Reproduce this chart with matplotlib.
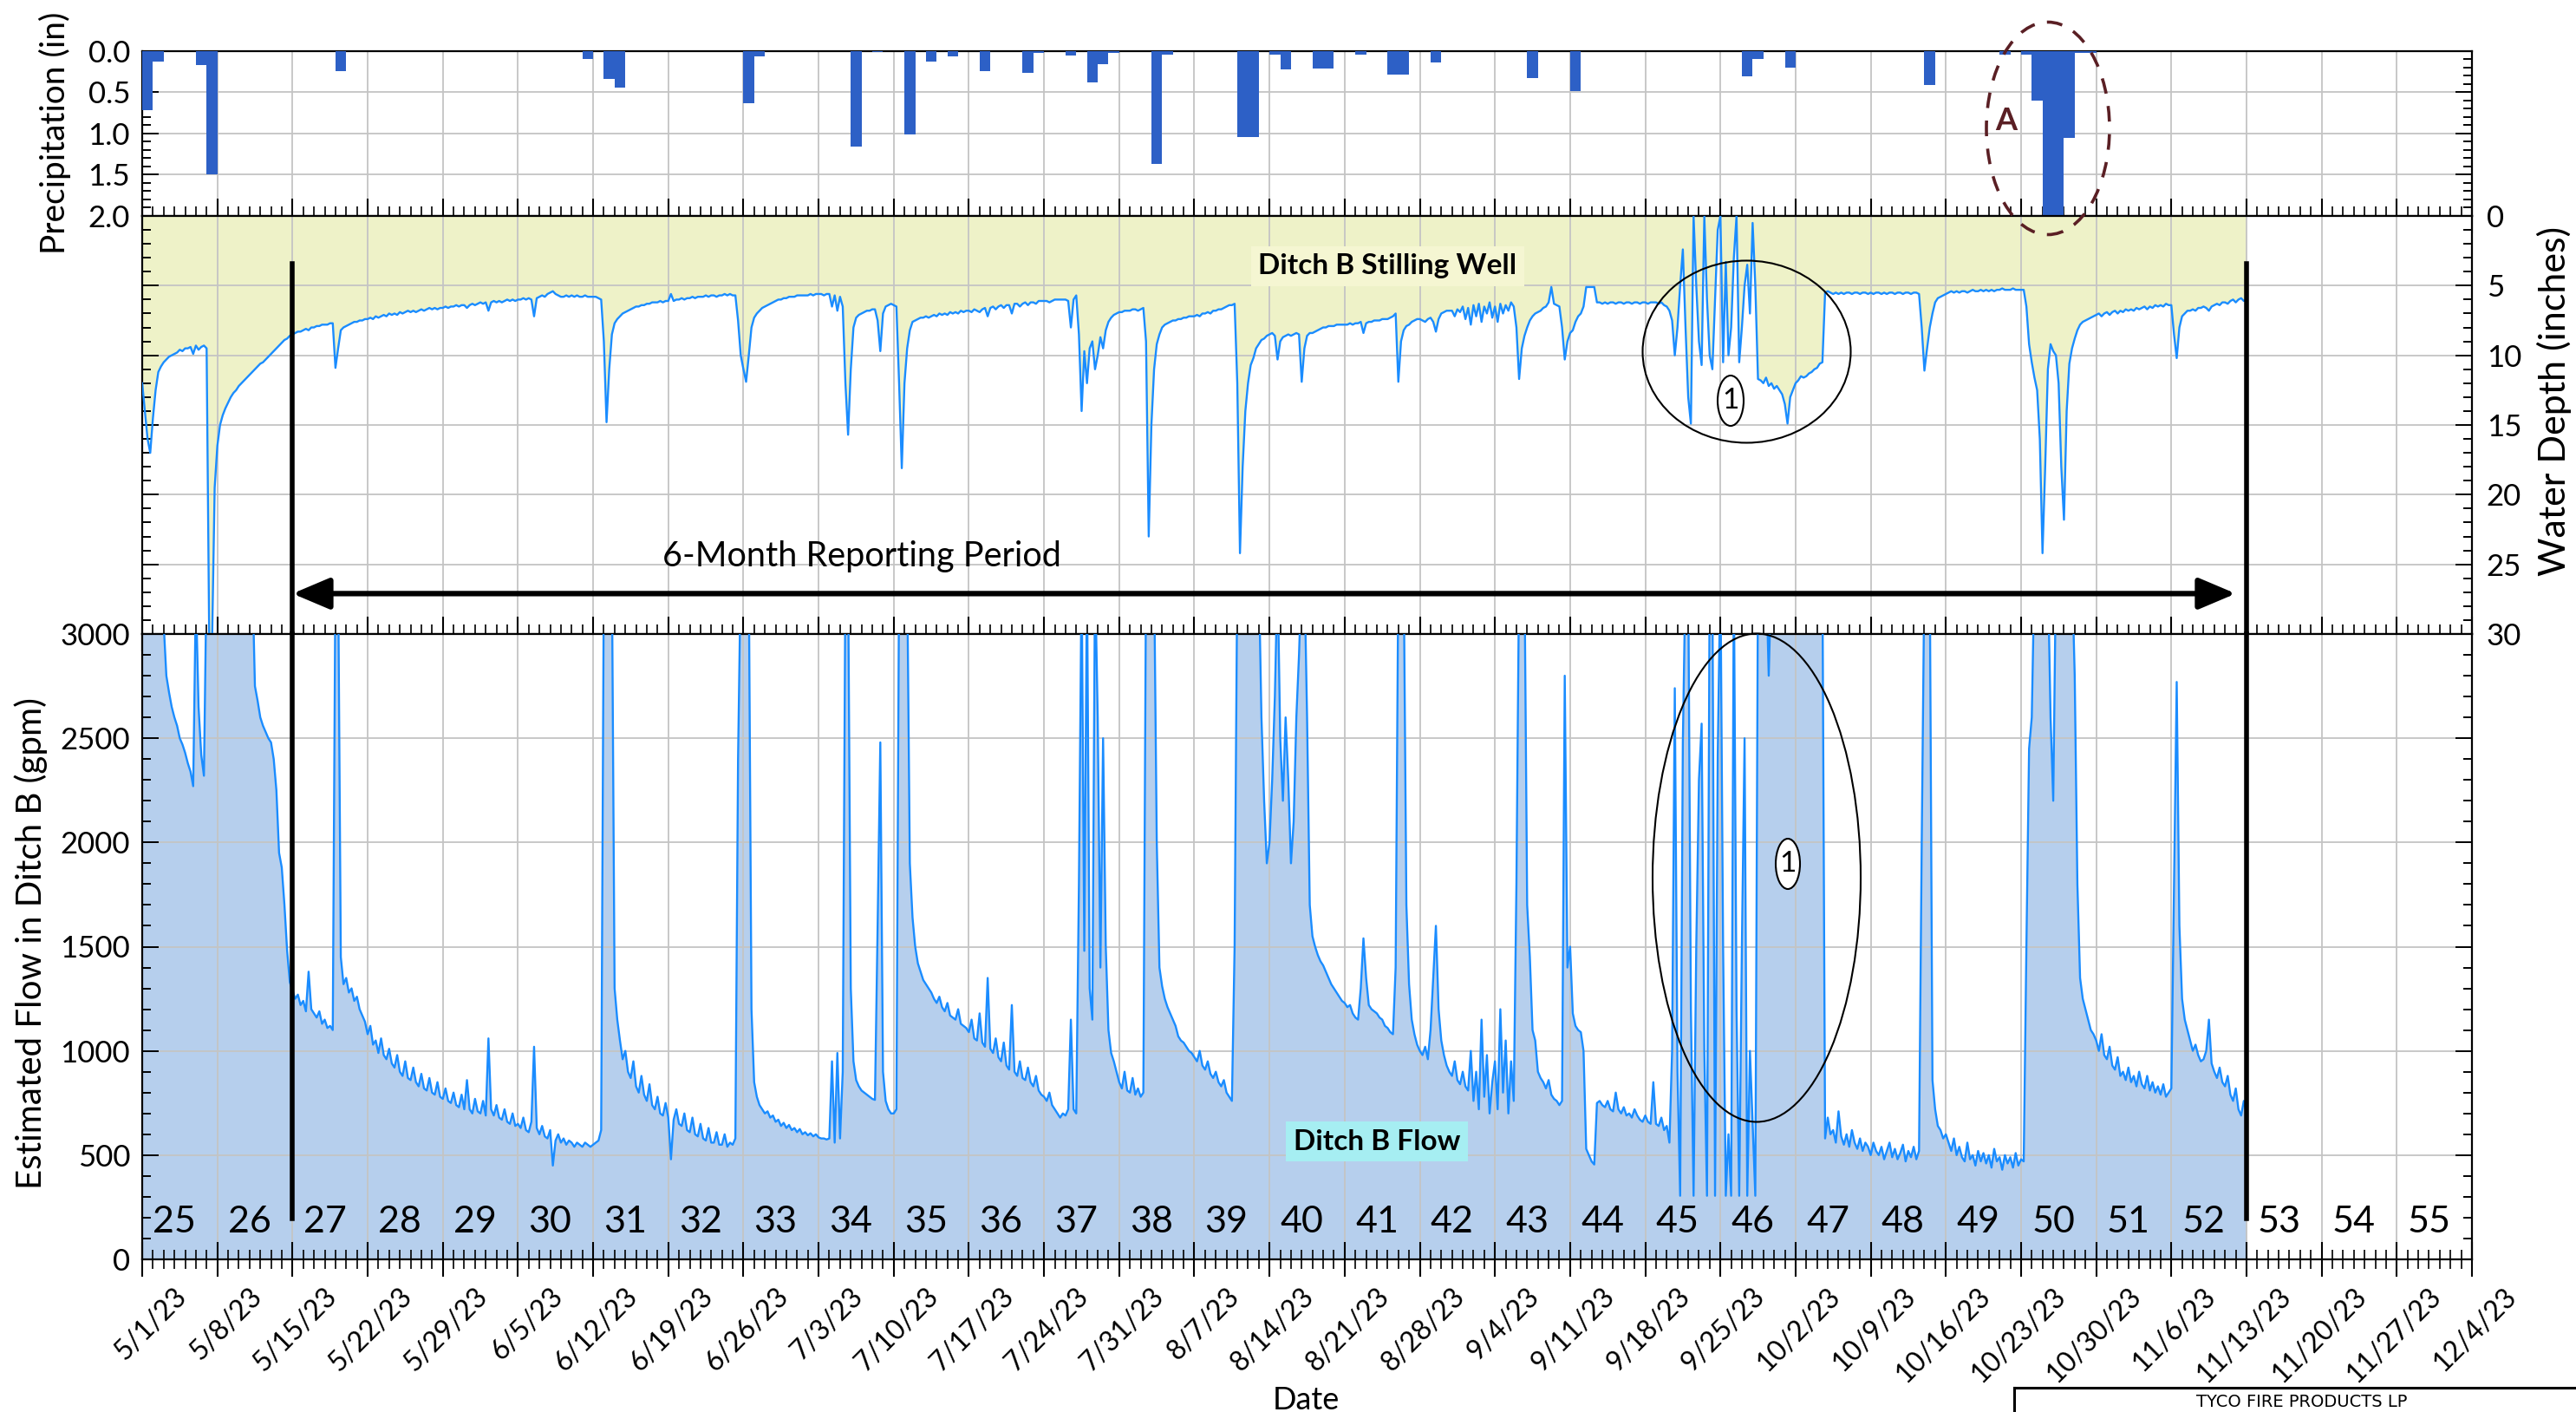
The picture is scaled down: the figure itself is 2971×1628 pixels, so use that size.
import numpy as np
import pandas as pd
import matplotlib
matplotlib.use('Agg')
import matplotlib.pyplot as plt
import matplotlib.dates as mdates
import matplotlib.transforms as mtransforms
from matplotlib.patches import Ellipse
from matplotlib.lines import Line2D
from matplotlib.ticker import MultipleLocator

plt.rcParams['font.family'] = ['Lato', 'DejaVu Sans']

START = np.datetime64('2023-05-01T00:00')
END_DAYS = 217          # axis runs 5/1/23 .. 12/4/23
SAMPLE_HOURS = 6        # logger series below are 6-hourly from 5/1/23 00:00

# daily precipitation (day offset from 5/1/23, inches)
precip_day = [0, 1, 5, 6, 18, 41, 43, 44, 56, 57, 66, 68, 71, 73, 75, 78, 82, 83, 86,
              88, 89, 90, 94, 95, 102, 103, 105, 106, 109, 110, 113, 116, 117, 120,
              129, 133, 149, 150, 153, 166, 173, 175, 176, 177, 178, 179, 180, 181]
precip_in = [0.72, 0.13, 0.17, 1.50, 0.25, 0.10, 0.34, 0.45, 0.64, 0.07, 1.16, 0.02,
             1.01, 0.13, 0.07, 0.25, 0.27, 0.03, 0.06, 0.38, 0.16, 0.03, 1.37, 0.05,
             1.04, 1.04, 0.05, 0.23, 0.21, 0.21, 0.05, 0.29, 0.29, 0.14, 0.33, 0.49,
             0.31, 0.10, 0.20, 0.41, 0.05, 0.05, 0.60, 2.00, 2.00, 1.05, 0.03, 0.03]

# estimated flow in Ditch B (gpm), two rows per week (weeks 25..52)
flow_gpm = [
    3300, 3300, 3300, 3300, 3300, 3300, 3300, 3300, 3050, 2800, 2720, 2650, 2600, 2560,
    2500, 2470, 2430, 2380, 2340, 2270, 3200, 2650, 2420, 2320, 3300, 3300, 3300, 3300,
    3300, 3300, 3300, 3300, 3300, 3300, 3300, 3300, 3300, 3300, 3300, 3300, 3300, 3300,
    2750, 2680, 2600, 2560, 2530, 2500, 2480, 2400, 2250, 1950, 1880, 1700, 1480, 1330,
    1290, 1250, 1270, 1220, 1240, 1190, 1380, 1200, 1180, 1160, 1190, 1130, 1150, 1110,
    1120, 1100, 3300, 3300, 1450, 1320, 1350, 1280, 1300, 1240, 1260, 1200, 1170, 1140,
    1080, 1120, 1030, 1050, 990, 1060, 980, 960, 1010, 940, 920, 980, 900, 880,
    950, 870, 860, 920, 850, 830, 890, 820, 810, 870, 800, 790, 850, 780,
    770, 820, 760, 750, 800, 740, 730, 790, 720, 860, 720, 700, 770, 710,
    700, 760, 690, 1060, 720, 690, 740, 680, 670, 720, 660, 650, 700, 640,
    650, 630, 680, 620, 610, 660, 1020, 630, 600, 640, 590, 580, 620, 450,
    570, 600, 560, 580, 550, 570, 560, 540, 560, 550, 540, 560, 550, 540,
    550, 560, 570, 620, 3300, 3300, 3300, 3300, 1300, 1150, 1050, 960, 1000, 900,
    870, 950, 830, 800, 880, 790, 760, 840, 740, 720, 780, 700, 690, 750,
    680, 480, 670, 720, 650, 640, 700, 620, 610, 680, 600, 590, 650, 580,
    570, 630, 560, 560, 610, 550, 550, 600, 540, 560, 550, 580, 2400, 3300,
    3300, 3300, 3300, 1200, 850, 780, 740, 720, 700, 710, 680, 690, 660, 670,
    640, 655, 630, 645, 620, 630, 610, 625, 600, 610, 595, 605, 590, 600,
    585, 580, 580, 575, 580, 950, 560, 990, 580, 900, 3300, 3300, 1300, 950,
    860, 830, 810, 800, 790, 780, 770, 765, 1600, 2480, 900, 760, 720, 700,
    700, 720, 3300, 3300, 3300, 3300, 1900, 1640, 1500, 1420, 1380, 1340, 1320, 1300,
    1280, 1250, 1230, 1260, 1210, 1190, 1230, 1170, 1160, 1150, 1200, 1130, 1120, 1110,
    1090, 1150, 1060, 1050, 1180, 1040, 1020, 1350, 1010, 990, 1060, 970, 950, 1040,
    930, 910, 1220, 900, 880, 950, 870, 860, 920, 850, 830, 880, 810, 790,
    780, 760, 800, 740, 720, 700, 680, 700, 690, 720, 1150, 720, 700, 1800,
    3300, 1480, 3300, 1300, 1150, 3300, 2600, 1400, 2500, 1500, 1100, 990, 950, 900,
    850, 820, 900, 810, 800, 870, 790, 820, 780, 800, 3300, 3300, 3300, 3300,
    2000, 1400, 1310, 1250, 1210, 1180, 1150, 1120, 1070, 1050, 1040, 1020, 1000, 990,
    970, 950, 1000, 930, 910, 950, 890, 870, 900, 850, 830, 860, 800, 780,
    760, 1500, 3300, 3300, 3300, 3300, 3300, 3300, 3300, 3300, 3300, 2600, 2200, 1900,
    2000, 2300, 2700, 3300, 2500, 2200, 2600, 2300, 1900, 2100, 2600, 2900, 3300, 3300,
    2600, 1700, 1550, 1500, 1460, 1430, 1410, 1380, 1350, 1320, 1300, 1280, 1260, 1240,
    1230, 1210, 1220, 1180, 1160, 1150, 1300, 1540, 1350, 1220, 1200, 1190, 1180, 1160,
    1150, 1120, 1110, 1090, 1080, 1400, 3300, 3300, 3300, 1700, 1320, 1150, 1080, 1030,
    1000, 980, 1020, 960, 1100, 1350, 1600, 1200, 1050, 980, 930, 900, 880, 950,
    860, 840, 900, 830, 810, 1000, 760, 900, 720, 1150, 780, 980, 700, 850,
    950, 720, 1200, 800, 1050, 700, 950, 760, 1800, 3300, 3300, 3300, 1700, 1450,
    1100, 1050, 900, 870, 850, 820, 860, 790, 770, 760, 740, 760, 2800, 1400,
    1500, 1180, 1120, 1100, 1090, 1000, 530, 500, 470, 455, 750, 760, 740, 730,
    760, 720, 710, 800, 720, 700, 730, 690, 700, 680, 720, 690, 670, 660,
    690, 660, 650, 850, 650, 640, 680, 620, 640, 560, 1000, 2740, 900, 305,
    2480, 3300, 3300, 1200, 305, 1500, 2300, 2570, 1000, 305, 3300, 3300, 305, 2420,
    3300, 1500, 305, 600, 305, 3300, 1200, 305, 1500, 2500, 305, 1000, 650, 305,
    3300, 3300, 3300, 3300, 2800, 3300, 3300, 3300, 3300, 3300, 3300, 3300, 3300, 3300,
    3300, 3300, 3300, 3300, 3300, 3300, 3300, 3300, 3300, 3300, 3300, 580, 680, 600,
    620, 560, 710, 590, 550, 600, 540, 620, 560, 530, 580, 520, 560, 540,
    500, 560, 520, 500, 540, 480, 520, 560, 490, 530, 480, 510, 550, 470,
    520, 490, 540, 480, 520, 2000, 3300, 3300, 3300, 860, 720, 640, 620, 580,
    600, 560, 520, 580, 500, 540, 490, 470, 560, 480, 500, 450, 520, 470,
    510, 460, 500, 440, 530, 470, 490, 430, 500, 460, 490, 440, 510, 450,
    480, 470, 1500, 2450, 2600, 3300, 3300, 3300, 3300, 3300, 3300, 2600, 2200, 3300,
    3300, 3300, 3300, 3300, 3300, 3300, 2800, 1800, 1350, 1250, 1200, 1150, 1100, 1080,
    1050, 1000, 1080, 980, 960, 1020, 930, 910, 970, 880, 900, 860, 920, 850,
    880, 830, 900, 840, 820, 880, 810, 850, 800, 830, 790, 840, 780, 800,
    820, 1800, 2770, 1600, 1250, 1150, 1100, 1050, 1000, 1030, 980, 950, 960, 1000,
    1150, 940, 900, 870, 920, 850, 830, 880, 790, 760, 820, 720, 690, 760,
    700,
]

# water depth at the Ditch B stilling well (inches), same 6-hourly samples
depth_in = [
    12.0, 14.0, 16.0, 17.0, 14.5, 12.5, 11.2, 10.8, 10.5, 10.3, 10.1, 10.0, 9.9, 9.8,
    9.6, 9.7, 9.5, 9.5, 9.4, 9.9, 9.3, 9.6, 9.4, 9.3, 9.5, 31.0, 31.0, 19.5,
    16.5, 15.0, 14.3, 13.8, 13.4, 13.0, 12.7, 12.5, 12.2, 12.0, 11.8, 11.6, 11.4, 11.2,
    11.0, 10.8, 10.6, 10.5, 10.3, 10.1, 9.9, 9.7, 9.5, 9.3, 9.1, 8.9, 8.8, 8.6,
    8.5, 8.4, 8.3, 8.3, 8.2, 8.1, 8.2, 8.0, 8.0, 7.9, 7.9, 7.8, 7.8, 7.8,
    7.7, 7.7, 10.9, 9.5, 8.2, 8.0, 7.9, 7.8, 7.7, 7.6, 7.6, 7.5, 7.5, 7.4,
    7.4, 7.3, 7.4, 7.2, 7.3, 7.2, 7.1, 7.2, 7.0, 7.1, 7.0, 7.1, 6.9, 7.0,
    6.9, 6.8, 6.9, 6.8, 6.9, 6.8, 6.7, 6.8, 6.7, 6.6, 6.7, 6.6, 6.7, 6.6,
    6.6, 6.5, 6.6, 6.5, 6.5, 6.4, 6.5, 6.4, 6.4, 6.6, 6.4, 6.3, 6.4, 6.3,
    6.2, 6.3, 6.2, 6.8, 6.2, 6.1, 6.2, 6.1, 6.2, 6.1, 6.0, 6.1, 6.0, 6.1,
    6.0, 6.0, 5.9, 6.0, 5.9, 6.0, 7.2, 5.9, 5.8, 5.7, 5.8, 5.6, 5.5, 5.4,
    5.6, 5.7, 5.8, 5.8, 5.7, 5.8, 5.7, 5.8, 5.7, 5.8, 5.8, 5.7, 5.8, 5.8,
    5.8, 5.8, 5.9, 6.0, 9.0, 14.8, 11.0, 8.5, 7.7, 7.4, 7.2, 7.0, 6.9, 6.8,
    6.7, 6.6, 6.5, 6.5, 6.4, 6.4, 6.3, 6.3, 6.2, 6.2, 6.2, 6.1, 6.2, 6.1,
    6.1, 5.6, 6.1, 6.0, 6.0, 5.9, 6.0, 5.9, 5.9, 5.8, 5.9, 5.8, 5.8, 5.8,
    5.7, 5.8, 5.7, 5.7, 5.8, 5.7, 5.7, 5.6, 5.7, 5.6, 5.7, 5.7, 7.5, 10.0,
    11.0, 11.9, 10.0, 8.0, 7.3, 7.0, 6.8, 6.6, 6.5, 6.4, 6.3, 6.2, 6.1, 6.0,
    6.0, 5.9, 5.9, 5.8, 5.8, 5.8, 5.7, 5.7, 5.7, 5.7, 5.7, 5.6, 5.7, 5.6,
    5.6, 5.6, 5.7, 5.6, 5.6, 6.5, 5.7, 6.8, 5.8, 6.5, 12.0, 15.7, 11.0, 8.0,
    7.3, 7.1, 7.0, 6.9, 6.8, 6.8, 6.7, 6.7, 7.5, 9.7, 7.0, 6.5, 6.4, 6.3,
    6.4, 6.5, 12.0, 18.1, 12.0, 9.5, 8.2, 7.6, 7.5, 7.4, 7.3, 7.3, 7.2, 7.3,
    7.2, 7.1, 7.2, 7.0, 7.1, 7.0, 7.1, 6.9, 7.0, 6.9, 7.0, 6.8, 6.9, 6.8,
    6.8, 6.9, 6.7, 6.8, 6.9, 6.7, 6.6, 7.2, 6.6, 6.5, 6.7, 6.5, 6.4, 6.6,
    6.4, 6.4, 7.0, 6.3, 6.3, 6.5, 6.3, 6.2, 6.4, 6.2, 6.2, 6.3, 6.1, 6.1,
    6.1, 6.1, 6.2, 6.1, 6.0, 6.0, 6.0, 6.0, 6.0, 6.1, 8.0, 6.0, 5.7, 8.5,
    14.0, 9.7, 12.0, 9.5, 9.0, 11.0, 10.0, 8.7, 9.5, 8.2, 7.6, 7.3, 7.1, 7.0,
    6.9, 6.9, 6.8, 6.8, 6.8, 6.7, 6.7, 6.8, 6.7, 6.6, 9.0, 23.0, 15.0, 11.0,
    9.2, 8.5, 8.0, 7.8, 7.7, 7.6, 7.5, 7.5, 7.4, 7.4, 7.3, 7.3, 7.2, 7.2,
    7.2, 7.1, 7.2, 7.0, 7.0, 6.9, 7.0, 6.8, 6.8, 6.7, 6.7, 6.6, 6.5, 6.4,
    6.4, 6.3, 12.0, 24.2, 18.0, 14.0, 12.0, 10.7, 10.2, 9.5, 9.2, 8.9, 8.8, 8.6,
    8.5, 8.4, 8.6, 10.3, 9.0, 8.7, 8.6, 8.5, 8.6, 8.5, 8.4, 8.5, 11.9, 9.5,
    8.6, 8.4, 8.4, 8.3, 8.2, 8.1, 8.0, 8.0, 7.9, 7.9, 7.9, 7.8, 7.8, 7.8,
    7.8, 7.8, 7.7, 7.8, 7.7, 7.7, 7.6, 8.4, 7.7, 7.6, 7.6, 7.5, 7.5, 7.5,
    7.4, 7.4, 7.4, 7.3, 7.2, 7.0, 11.9, 9.0, 8.2, 7.9, 7.8, 7.6, 7.5, 7.4,
    7.4, 7.5, 7.6, 7.4, 7.3, 7.6, 8.3, 7.4, 7.0, 6.9, 6.8, 6.8, 6.8, 7.2,
    6.7, 6.9, 6.5, 7.4, 6.6, 7.8, 6.4, 7.2, 6.3, 7.6, 6.5, 7.0, 6.2, 7.3,
    6.5, 7.6, 6.3, 7.0, 6.4, 6.8, 6.2, 6.5, 8.0, 11.7, 9.5, 8.6, 8.0, 7.5,
    7.2, 7.0, 6.9, 6.8, 6.6, 6.5, 6.2, 5.1, 6.3, 6.4, 6.5, 8.0, 10.3, 9.0,
    8.4, 8.2, 7.6, 7.2, 7.0, 6.5, 5.1, 5.1, 5.1, 5.1, 6.2, 6.2, 6.3, 6.2,
    6.3, 6.2, 6.2, 6.3, 6.2, 6.2, 6.3, 6.2, 6.2, 6.3, 6.2, 6.2, 6.3, 6.2,
    6.2, 6.3, 6.2, 6.2, 6.2, 6.3, 6.2, 6.4, 6.5, 6.8, 7.5, 10.0, 8.0, 5.0,
    2.4, 8.0, 13.0, 14.9, 0.0, 5.0, 9.0, 10.7, 0.0, 6.0, 10.0, 11.0, 6.0, 1.0,
    0.0, 10.5, 3.3, 10.0, 8.0, 3.0, 0.0, 10.5, 8.0, 5.0, 3.5, 7.0, 0.5, 5.0,
    11.7, 11.8, 12.0, 11.6, 12.2, 12.0, 12.4, 12.2, 12.5, 12.8, 13.5, 14.9, 13.0, 12.5,
    12.0, 11.8, 11.5, 11.6, 11.5, 11.3, 11.2, 11.0, 10.9, 10.6, 10.5, 5.5, 5.4, 5.5,
    5.6, 5.5, 5.6, 5.5, 5.6, 5.5, 5.5, 5.6, 5.5, 5.5, 5.6, 5.5, 5.5, 5.6,
    5.5, 5.6, 5.5, 5.5, 5.6, 5.5, 5.6, 5.5, 5.5, 5.6, 5.5, 5.5, 5.6, 5.5,
    5.5, 5.6, 5.5, 5.5, 5.6, 8.0, 11.1, 9.5, 8.0, 7.0, 6.2, 5.9, 5.8, 5.7,
    5.6, 5.5, 5.4, 5.5, 5.4, 5.5, 5.4, 5.4, 5.5, 5.4, 5.3, 5.4, 5.4, 5.3,
    5.4, 5.3, 5.4, 5.3, 5.4, 5.3, 5.3, 5.2, 5.3, 5.3, 5.3, 5.2, 5.3, 5.3,
    5.3, 5.3, 6.5, 9.2, 10.5, 11.6, 12.5, 16.0, 24.2, 18.0, 11.0, 9.2, 9.7, 10.0,
    12.0, 18.0, 21.8, 14.0, 10.6, 9.5, 8.8, 8.2, 7.8, 7.6, 7.5, 7.4, 7.3, 7.2,
    7.1, 7.0, 7.2, 7.0, 6.9, 7.1, 6.9, 6.8, 7.0, 6.8, 6.9, 6.7, 6.8, 6.7,
    6.8, 6.6, 6.7, 6.6, 6.5, 6.7, 6.5, 6.6, 6.4, 6.5, 6.4, 6.5, 6.3, 6.4,
    6.4, 8.5, 10.2, 8.0, 7.2, 7.0, 6.8, 6.8, 6.7, 6.8, 6.6, 6.6, 6.5, 6.6,
    6.8, 6.5, 6.4, 6.3, 6.4, 6.2, 6.2, 6.3, 6.1, 6.0, 6.2, 6.0, 5.9, 6.1,
    6.0,
]

week_numbers = list(range(25, 56))

# ---------------------------------------------------------------
W, H = 2971, 1628
fig = plt.figure(figsize=(W / 100, H / 100), dpi=100)
L, R = 164 / W, 2851 / W


def axes_between(top_px, bot_px):
    return fig.add_axes([L, 1 - bot_px / H, R - L, (bot_px - top_px) / H])


ax_p = axes_between(58.5, 249)
ax_d = axes_between(249, 731)
ax_f = axes_between(731, 1452)

LINE = '#1a8cff'
FLOW_FILL = '#b6cfed'
DEPTH_FILL = '#eef2c8'
BAR = '#2d60c6'
GRID = '#c4c4c4'

day = np.timedelta64(1, 'D')
t_flow = START + np.arange(len(flow_gpm)) * np.timedelta64(SAMPLE_HOURS, 'h')
t_depth = START + np.arange(len(depth_in)) * np.timedelta64(SAMPLE_HOURS, 'h')
t_rain = START + np.array(precip_day) * day

ax_p.bar(t_rain, precip_in, width=1.0, align='edge', color=BAR, zorder=3)
ax_d.fill_between(t_depth, 0, depth_in, color=DEPTH_FILL, lw=0, zorder=1)
ax_d.plot(t_depth, depth_in, color=LINE, lw=1.7, zorder=3)
ax_f.fill_between(t_flow, 0, flow_gpm, color=FLOW_FILL, lw=0, zorder=1)
ax_f.plot(t_flow, flow_gpm, color=LINE, lw=1.7, zorder=3)

ax_p.set_ylim(2.0, 0.0)
ax_d.set_ylim(30, 0)
ax_f.set_ylim(0, 3000)

weeks = START + np.arange(0, END_DAYS + 1, 7) * day
for ax in (ax_p, ax_d, ax_f):
    ax.set_xlim(START, START + END_DAYS * day)
    ax.set_xticks(weeks)
    ax.xaxis.set_minor_locator(mdates.DayLocator())
    ax.set_axisbelow('line')
    ax.grid(True, which='major', color=GRID, lw=1.3)
    for s in ax.spines.values():
        s.set_linewidth(1.6)
    ax.tick_params(axis='x', which='major', direction='inout', length=29, width=1.5,
                   top=False, bottom=True, labelbottom=False)
    ax.tick_params(axis='x', which='minor', direction='inout', length=16, width=1.2,
                   top=False, bottom=True)
    ax.tick_params(axis='y', which='both', direction='in', left=True, right=True,
                   labelsize=25, width=1.4)
    ax.tick_params(axis='y', which='major', length=14)
    ax.tick_params(axis='y', which='minor', length=7)

ax_p.yaxis.set_major_locator(MultipleLocator(0.5))
ax_p.yaxis.set_minor_locator(MultipleLocator(0.1))
ax_p.set_yticks([0.0, 0.5, 1.0, 1.5, 2.0])
ax_p.set_yticklabels(['0.0', '0.5', '1.0', '1.5', '2.0'])
ax_p.tick_params(axis='y', pad=10)

ax_d.yaxis.set_major_locator(MultipleLocator(5))
ax_d.yaxis.set_minor_locator(MultipleLocator(1))
ax_d.tick_params(axis='y', labelleft=False, labelright=True, pad=12)

ax_f.yaxis.set_major_locator(MultipleLocator(500))
ax_f.yaxis.set_minor_locator(MultipleLocator(100))
ax_f.tick_params(axis='y', pad=10)

# rotated date labels, hung from each weekly tick
shift = mtransforms.ScaledTranslation(26 / 72, -20 / 72, fig.dpi_scale_trans)
date_tf = ax_f.get_xaxis_transform() + shift
for d in pd.to_datetime(weeks):
    ax_f.text(np.datetime64(d), 0, f'{d.month}/{d.day}/23', transform=date_tf,
              rotation=45, ha='right', va='top', rotation_mode='anchor',
              fontsize=23, clip_on=False)

# week numbers along the bottom of the flow panel
for k, wk in enumerate(week_numbers):
    ax_f.text(START + (7 * k + 3.5) * day, 180, str(wk), ha='center', va='center',
              fontsize=31, zorder=5)

# reporting period markers
d0 = START + 14 * day
d1 = START + 196 * day
for d in (d0, d1):
    ax_d.plot([d, d], [3.4, 30], color='black', lw=4, clip_on=False, zorder=6)
    ax_f.plot([d, d], [3000, 195], color='black', lw=4, clip_on=False, zorder=6)
ax_d.annotate('', xy=(START + 195.6 * day, 27.1), xytext=(START + 14.45 * day, 27.1),
              arrowprops=dict(arrowstyle='<|-|>,head_length=1.3,head_width=0.55',
                              mutation_scale=20, lw=4.5, color='black',
                              shrinkA=0, shrinkB=0), zorder=6)
ax_d.text(START + 67 * day, 24.4, '6-Month Reporting Period', ha='center', va='center',
          fontsize=28.5, zorder=6)

ax_d.text(START + 116.5 * day, 3.6, 'Ditch B Stilling Well', ha='center', va='center',
          fontsize=24, fontweight='bold', zorder=6,
          bbox=dict(boxstyle='square,pad=0.25', fc='#f5f6d2', ec='none'))
ax_f.text(START + 115 * day, 565, 'Ditch B Flow', ha='center', va='center',
          fontsize=24, fontweight='bold', zorder=6,
          bbox=dict(boxstyle='square,pad=0.25', fc='#a6eef2', ec='none'))


def fig_ellipse(cx, cy, w, h, **kw):
    e = Ellipse((cx / W, 1 - cy / H), w / W, h / H, transform=fig.transFigure, **kw)
    fig.add_artist(e)


fig_ellipse(2362, 148, 142, 245, fill=False, ec='#5a1f24', lw=2.6, ls=(0, (5, 4)))
fig.text(2314 / W, 1 - 140 / H, 'A', ha='center', va='center', fontsize=26,
         fontweight='bold', color='#5a1f24')

fig_ellipse(2014.5, 405.5, 240, 210, fill=False, ec='black', lw=1.5)
fig_ellipse(1996, 462, 30, 58, fc='white', ec='black', lw=1.5)
fig.text(1996 / W, 1 - 462 / H, '1', ha='center', va='center', fontsize=24)

fig_ellipse(2026, 1012, 240, 563, fill=False, ec='black', lw=1.5)
fig_ellipse(2062, 996, 28, 58, fc='white', ec='black', lw=1.5)
fig.text(2062 / W, 1 - 996 / H, '1', ha='center', va='center', fontsize=24)

# axis titles
fig.text(63 / W, 1 - 153 / H, 'Precipitation (in)', rotation=90, ha='center',
         va='center', fontsize=28)
fig.text(36 / W, 1 - 1088 / H, 'Estimated Flow in Ditch B (gpm)', rotation=90,
         ha='center', va='center', fontsize=29)
fig.text(2946 / W, 1 - 462 / H, 'Water Depth (inches)', rotation=90, ha='center',
         va='center', fontsize=31)
fig.text(1506 / W, 1 - 1598 / H, 'Date', ha='center', va='top', fontsize=26)

# title block corner
fig.add_artist(Line2D([2323 / W, 1.0], [1 - 1600 / H] * 2, transform=fig.transFigure,
                      color='black', lw=2.2))
fig.add_artist(Line2D([2323 / W] * 2, [0, 1 - 1600 / H], transform=fig.transFigure,
                      color='black', lw=2.2))
fig.text(2655 / W, 1 - 1617 / H, 'TYCO FIRE PRODUCTS LP', ha='center', va='center',
         fontsize=14, family=['Liberation Sans Narrow', 'DejaVu Sans'])

fig.savefig('out.png', dpi=100)
